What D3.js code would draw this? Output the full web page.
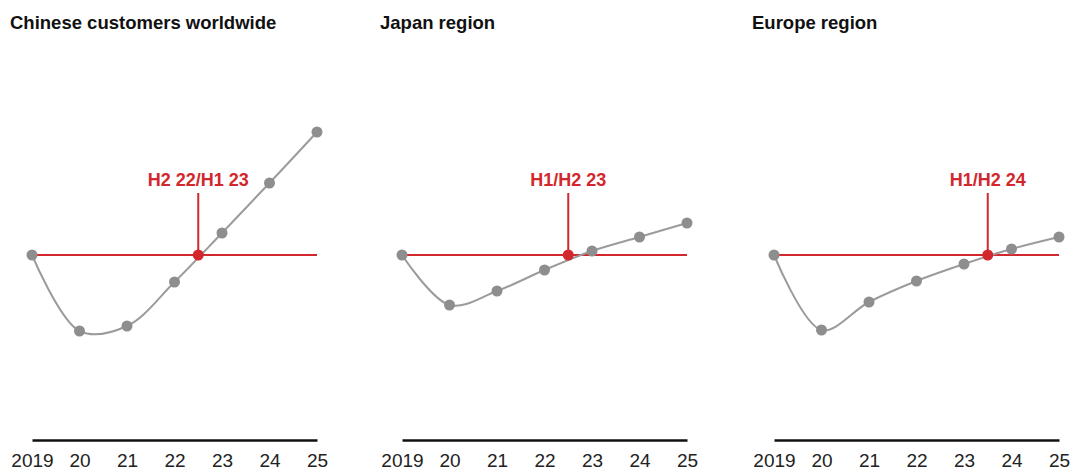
<!DOCTYPE html>
<html>
<head>
<meta charset="utf-8">
<script src="https://cdn.jsdelivr.net/npm/d3@7/dist/d3.min.js"></script>
<style>
  html, body { margin: 0; padding: 0; background: #fff; }
  svg { display: block; font-family: "Liberation Sans", Arial, Helvetica, sans-serif; }
</style>
</head>
<body>
<svg id="chart" width="1074" height="470"></svg>
<script>
// Tick labels along the year axis
const years = ["2019", "20", "21", "22", "23", "24", "25"];

// Panel titles
const titles = ["Chinese customers worldwide", "Japan region", "Europe region"];

// Demand index per year, 2019 = 100
const chinaValues  = [100, 69.6, 71.6, 89.2, 108.8, 128.8, 149.2];
const japanValues  = [100, 80.0, 85.6, 94.0, 101.6, 107.2, 112.8];
const europeValues = [100, 70.0, 81.2, 89.6, 96.4, 102.4, 107.2];

// Recovery point (position in years after 2019) and its label
const recoveryPos    = [3.5, 3.5, 4.5];
const recoveryLabels = ["H2 22/H1 23", "H1/H2 23", "H1/H2 24"];

const baselineValue = 100;

const series = [chinaValues, japanValues, europeValues];

const svg = d3.select("#chart");

const RED = "#d3272e";
const GREY_LINE = "#9b9b9b";
const GREY_DOT = "#8e8e8e";

const panelLeft = [32, 402, 774];
const panelWidth = 285;

const y = d3.scaleLinear().domain([40, 170]).range([405, 80]);

series.forEach((values, p) => {
  const g = svg.append("g");
  const x = d3.scaleLinear()
    .domain([0, years.length - 1])
    .range([panelLeft[p], panelLeft[p] + panelWidth]);

  // Title
  g.append("text")
    .attr("x", panelLeft[p] - 22)
    .attr("y", 29)
    .attr("font-size", 18.5)
    .attr("font-weight", "bold")
    .attr("fill", "#111")
    .text(titles[p]);

  // Bottom axis with year labels
  const axis = d3.axisBottom(x)
    .tickValues(d3.range(years.length))
    .tickFormat(i => years[i])
    .tickSize(0)
    .tickPadding(14);
  const ax = g.append("g")
    .attr("transform", "translate(0,440)")
    .call(axis);
  ax.select(".domain").attr("stroke", "#111").attr("stroke-width", 2.5);
  ax.selectAll("text")
    .attr("font-size", 19)
    .attr("fill", "#222")
    .attr("font-family", "\"Liberation Sans\", Arial, sans-serif");

  // 2019 baseline
  g.append("line")
    .attr("x1", x(0)).attr("x2", x(years.length - 1))
    .attr("y1", y(baselineValue)).attr("y2", y(baselineValue))
    .attr("stroke", RED).attr("stroke-width", 2);

  // Index curve
  const line = d3.line()
    .x((d, i) => x(i))
    .y(d => y(d))
    .curve(d3.curveCatmullRom.alpha(0.5));
  g.append("path")
    .datum(values)
    .attr("d", line)
    .attr("fill", "none")
    .attr("stroke", GREY_LINE)
    .attr("stroke-width", 2);

  g.selectAll("circle.pt")
    .data(values)
    .join("circle")
    .attr("class", "pt")
    .attr("cx", (d, i) => x(i))
    .attr("cy", d => y(d))
    .attr("r", 5.5)
    .attr("fill", GREY_DOT);

  // Recovery marker
  const rx = x(recoveryPos[p]);
  const ry = y(baselineValue);
  g.append("line")
    .attr("x1", rx).attr("x2", rx)
    .attr("y1", ry).attr("y2", ry - 62)
    .attr("stroke", RED).attr("stroke-width", 2);
  g.append("circle")
    .attr("cx", rx).attr("cy", ry)
    .attr("r", 5.5)
    .attr("fill", RED);
  g.append("text")
    .attr("x", rx)
    .attr("y", ry - 69)
    .attr("text-anchor", "middle")
    .attr("font-size", 18)
    .attr("font-weight", "bold")
    .attr("fill", RED)
    .text(recoveryLabels[p]);
});
</script>
</body>
</html>
